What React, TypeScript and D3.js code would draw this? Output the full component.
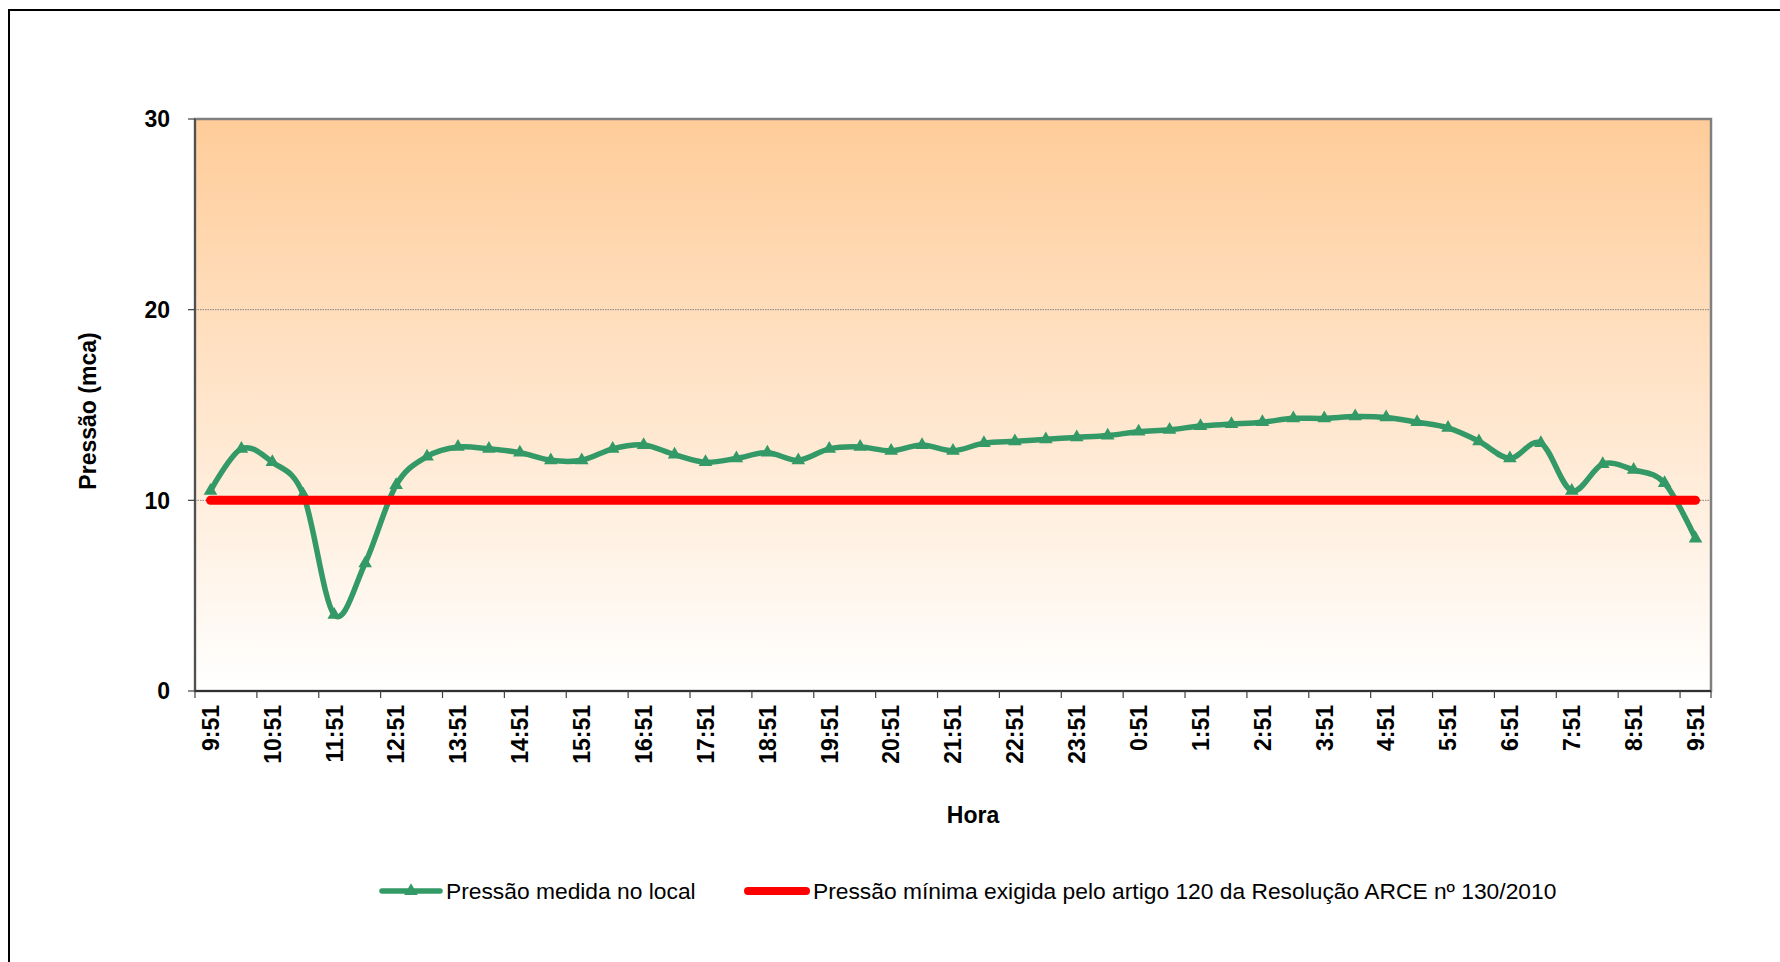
import React from "react";
import * as d3 from "d3";

const categories: string[] = [
  "9:51", "10:21", "10:51", "11:21", "11:51", "12:21", "12:51", "13:21", "13:51", "14:21",
  "14:51", "15:21", "15:51", "16:21", "16:51", "17:21", "17:51", "18:21", "18:51", "19:21",
  "19:51", "20:21", "20:51", "21:21", "21:51", "22:21", "22:51", "23:21", "23:51", "0:21",
  "0:51", "1:21", "1:51", "2:21", "2:51", "3:21", "3:51", "4:21", "4:51", "5:21",
  "5:51", "6:21", "6:51", "7:21", "7:51", "8:21", "8:51", "9:21", "9:51",
];

const measured: number[] = [
  10.5, 12.7, 12.0, 10.3, 4.0, 6.7, 10.8, 12.3, 12.8, 12.7,
  12.5, 12.1, 12.1, 12.7, 12.9, 12.4, 12.0, 12.2, 12.5, 12.1,
  12.7, 12.8, 12.6, 12.9, 12.6, 13.0, 13.1, 13.2, 13.3, 13.4,
  13.6, 13.7, 13.9, 14.0, 14.1, 14.3, 14.3, 14.4, 14.35, 14.1,
  13.8, 13.1, 12.2, 13.0, 10.5, 11.9, 11.6, 10.9, 8.0,
];

const minimumRequired: number[] = categories.map(() => 10);

const yTicks: number[] = [0, 10, 20, 30];
const seriesNames: string[] = [
  "Pressão medida no local",
  "Pressão mínima exigida pelo artigo 120 da Resolução ARCE nº 130/2010",
];

const W = 1780;
const H = 962;
const left = 195;
const right = 1711;
const top = 119;
const bottom = 691;
const FONT = "'Liberation Sans', Arial, sans-serif";
const GREEN = "#339966";
const RED = "#FF0000";

export default function App() {
  const idx = categories.map((_, i) => i);
  const x = d3.scaleBand<number>().domain(idx).range([left, right]).paddingInner(0).paddingOuter(0);
  const bw = x.bandwidth();
  const cx = (i: number) => (x(i) as number) + bw / 2;
  const y = d3.scaleLinear().domain([0, 30]).range([bottom, top]);

  const lineGen = d3
    .line<number>()
    .x((_, i) => cx(i))
    .y((d) => y(d))
    .curve(d3.curveCatmullRom.alpha(0));
  const redGen = d3
    .line<number>()
    .x((_, i) => cx(i))
    .y((d) => y(d));

  const tri = d3.symbol().type(d3.symbolTriangle).size(80)() as string;

  const tickXs: number[] = [];
  idx.forEach((i) => {
    if (i % 2 === 0) tickXs.push(x(i) as number);
  });
  tickXs.push(right);

  return (
    <svg width={W} height={H} style={{ position: "fixed", left: 0, top: 0, background: "#fff" }}>
      <defs>
        <linearGradient id="bg" x1="0" y1="0" x2="0" y2="1">
          <stop offset="0%" stopColor="#FFCC99" />
          <stop offset="100%" stopColor="#FFFFFF" />
        </linearGradient>
      </defs>
      <rect x={0} y={0} width={W} height={H} fill="#fff" />
      <rect x={9} y={10} width={1800} height={1000} fill="none" stroke="#000" strokeWidth={2} />

      <rect x={left} y={top} width={right - left} height={bottom - top} fill="url(#bg)" />

      {yTicks.filter((t) => t > 0 && t < 30).map((t) => (
        <line key={"g" + t} x1={left} x2={right} y1={y(t)} y2={y(t)} stroke="#808080" strokeWidth={1} strokeDasharray="1.5,1" />
      ))}

      <rect x={left} y={top} width={right - left} height={bottom - top} fill="none" stroke="#808080" strokeWidth={2.5} />
      <line x1={left} x2={left} y1={top} y2={bottom} stroke="#404040" strokeWidth={1.5} />
      <line x1={left} x2={right} y1={bottom} y2={bottom} stroke="#303030" strokeWidth={2} />

      {yTicks.map((t) => (
        <g key={"y" + t}>
          <line x1={left - 7} x2={left} y1={y(t)} y2={y(t)} stroke="#404040" strokeWidth={1.2} />
          <text x={170} y={y(t)} dy="0.36em" textAnchor="end" fontFamily={FONT} fontWeight="bold" fontSize={23} fill="#000">
            {t}
          </text>
        </g>
      ))}

      {tickXs.map((tx, i) => (
        <line key={"xt" + i} x1={tx} x2={tx} y1={bottom} y2={bottom + 7} stroke="#404040" strokeWidth={1.2} />
      ))}

      {categories.map((c, i) =>
        i % 2 === 0 ? (
          <text
            key={"xl" + i}
            transform={`translate(${cx(i)},${bottom + 14}) rotate(-90)`}
            dy="0.36em"
            textAnchor="end"
            fontFamily={FONT}
            fontWeight="bold"
            fontSize={23}
            fill="#000"
          >
            {c}
          </text>
        ) : null
      )}

      <text transform={`translate(88,411) rotate(-90)`} dy="0.36em" textAnchor="middle" fontFamily={FONT} fontWeight="bold" fontSize={23} fill="#000">
        Pressão (mca)
      </text>
      <text x={973} y={815} dy="0.36em" textAnchor="middle" fontFamily={FONT} fontWeight="bold" fontSize={23} fill="#000">
        Hora
      </text>

      <path d={lineGen(measured) as string} fill="none" stroke={GREEN} strokeWidth={5.5} strokeLinejoin="round" />
      {measured.map((v, i) => (
        <path key={"m" + i} d={tri} transform={`translate(${cx(i)},${y(v)})`} fill={GREEN} />
      ))}
      <path d={redGen(minimumRequired) as string} fill="none" stroke={RED} strokeWidth={9} strokeLinecap="round" />

      <g>
        <line x1={382} x2={440} y1={891} y2={891} stroke={GREEN} strokeWidth={5.5} strokeLinecap="round" />
        <path d={tri} transform="translate(411,891)" fill={GREEN} />
        <text x={446} y={891} dy="0.36em" fontFamily={FONT} fontSize={22.8} fill="#000">
          {seriesNames[0]}
        </text>
        <line x1={748} x2={806} y1={891} y2={891} stroke={RED} strokeWidth={8} strokeLinecap="round" />
        <text x={813} y={891} dy="0.36em" fontFamily={FONT} fontSize={22.8} fill="#000">
          {seriesNames[1]}
        </text>
      </g>
    </svg>
  );
}
